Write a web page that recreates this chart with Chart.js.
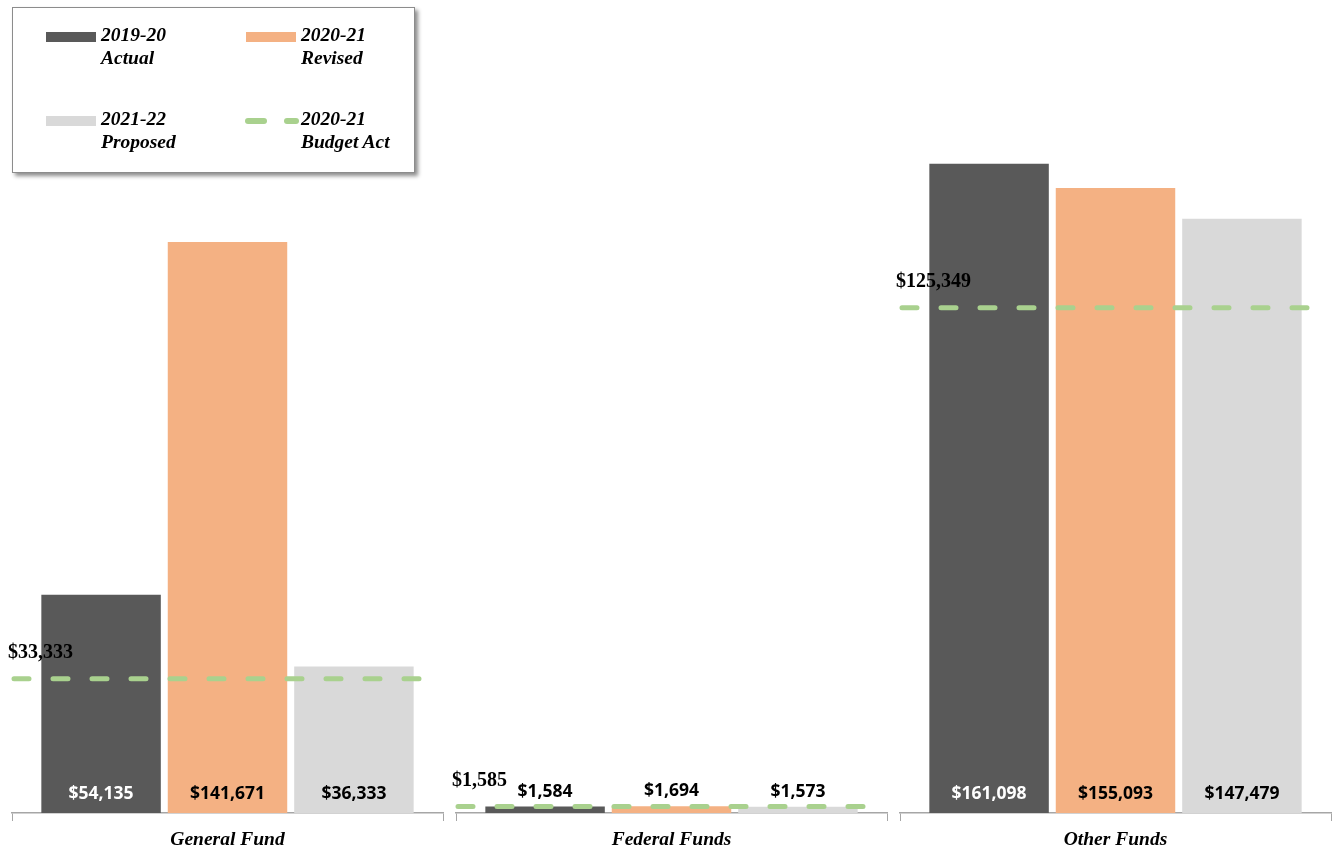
<!DOCTYPE html>
<html>
<head>
<meta charset="utf-8">
<script src="https://cdn.jsdelivr.net/npm/chart.js@4"></script>
<style>
    body { margin: 0; background: #fff; }
    #wrap { position: relative; width: 1332px; height: 851px; }
    .cell { position: absolute; top: 0; width: 444px; height: 851px; }
    #legend {
        position: absolute; left: 12px; top: 7px; width: 401px; height: 164px;
        border: 1.5px solid #8c8c8c; background: #fff;
        box-shadow: 3px 3px 4px rgba(0, 0, 0, 0.45);
        font: italic bold 19.5px 'Liberation Serif', 'Times New Roman', serif; color: #000;
    }
    .item { position: absolute; line-height: 23px; }
    .sw { position: absolute; width: 50px; height: 10px; }
</style>
</head>
<body>
<div id="wrap">
    <div class="cell" style="left:0"><canvas id="chart0"></canvas></div>
    <div class="cell" style="left:444px"><canvas id="chart1"></canvas></div>
    <div class="cell" style="left:888px"><canvas id="chart2"></canvas></div>
    <div id="legend"></div>
</div>
<script>
const categories = ['General Fund', 'Federal Funds', 'Other Funds'];
const actual1920 = [54135, 1584, 161098];
const revised2021 = [141671, 1694, 155093];
const proposed2122 = [36333, 1573, 147479];
const budgetAct2021 = [33333, 1585, 125349];

const seriesNames = [['2019-20', 'Actual'], ['2020-21', 'Revised'], ['2021-22', 'Proposed'], ['2020-21', 'Budget Act']];
const colors = ['#595959', '#F4B183', '#D9D9D9', '#A9D18E'];

const money = v => '$' + v.toLocaleString('en-US');

// legend (html)
const legend = document.getElementById('legend');
const spots = [[33, 22], [233, 22], [33, 106], [233, 106]];
seriesNames.forEach((name, i) => {
    const [lx, ly] = spots[i];
    const sw = document.createElement('div');
    sw.className = 'sw';
    sw.style.left = lx + 'px';
    sw.style.top = (ly + 2) + 'px';
    if (i < 3) {
        sw.style.background = colors[i];
    } else {
        sw.innerHTML = '<span style="position:absolute;left:-1px;top:2px;width:22px;height:6px;border-radius:3px;background:' + colors[3] + '"></span>' +
            '<span style="position:absolute;left:38px;top:2px;width:15px;height:6px;border-radius:3px;background:' + colors[3] + '"></span>';
    }
    legend.appendChild(sw);
    const t = document.createElement('div');
    t.className = 'item';
    t.style.left = (lx + 55) + 'px';
    t.style.top = (ly - 7) + 'px';
    t.innerHTML = name[0] + '<br>' + name[1];
    legend.appendChild(t);
});

const overlay = {
    id: 'overlay',
    afterDatasetsDraw(chart) {
        const ctx = chart.ctx;
        const area = chart.chartArea;
        const yScale = chart.scales.y;
        const i = chart.options.catIndex;

        // value labels on the bars
        ctx.save();
        ctx.font = 'bold 17.5px "Open Sans", sans-serif';
        ctx.textAlign = 'center';
        ctx.textBaseline = 'middle';
        chart.data.datasets.forEach((ds, d) => {
            const bar = chart.getDatasetMeta(d).data[0];
            const h = bar.base - bar.y;
            let y, col = '#000';
            if (h > 40) {
                y = bar.base - 19;
                if (d === 0) col = '#fff';
            } else {
                y = bar.y - 15;
            }
            ctx.fillStyle = col;
            ctx.fillText(money(ds.data[0]), bar.x, y);
        });
        ctx.restore();

        // budget act dashed line
        const ly = yScale.getPixelForValue(budgetAct2021[i]);
        ctx.save();
        ctx.strokeStyle = colors[3];
        ctx.lineWidth = 5;
        ctx.lineCap = 'round';
        ctx.setLineDash([15, 24]);
        ctx.beginPath();
        ctx.moveTo(area.left + 2, ly);
        ctx.lineTo(area.right - 6, ly);
        ctx.stroke();
        ctx.restore();

        ctx.save();
        ctx.font = 'bold 20px "Liberation Serif", serif';
        ctx.fillStyle = '#000';
        ctx.textAlign = 'left';
        ctx.textBaseline = 'middle';
        ctx.fillText(money(budgetAct2021[i]), area.left - 4, ly - 26);
        ctx.restore();
    }
};

function makeChart(i) {
    const data = {
        labels: [categories[i]],
        datasets: [
            { label: seriesNames[0].join(' '), data: [actual1920[i]], backgroundColor: colors[0] },
            { label: seriesNames[1].join(' '), data: [revised2021[i]], backgroundColor: colors[1] },
            { label: seriesNames[2].join(' '), data: [proposed2122[i]], backgroundColor: colors[2] },
        ]
    };
    return new Chart(document.getElementById('chart' + i), {
        type: 'bar',
        data: data,
        plugins: [overlay],
        options: {
            catIndex: i,
            responsive: true,
            maintainAspectRatio: false,
            animation: false,
            datasets: { bar: { categoryPercentage: 0.88, barPercentage: 0.945 } },
            layout: { padding: { left: 12, right: 1, top: 7, bottom: 0 } },
            plugins: { legend: { display: false }, tooltip: { enabled: false } },
            scales: {
                x: {
                    offset: true,
                    grid: { offset: true, drawOnChartArea: false, drawTicks: true, tickLength: 8, color: '#a6a6a6' },
                    border: { color: '#a6a6a6', width: 1.5 },
                    ticks: {
                        color: '#000',
                        padding: 7,
                        font: { family: '"Liberation Serif", serif', size: 19.5, style: 'italic', weight: 'bold' }
                    },
                    afterFit(scale) { scale.height = 38; }
                },
                y: { display: false, min: 0, max: 200000 }
            }
        }
    });
}

categories.forEach((c, i) => makeChart(i));
</script>
</body>
</html>
